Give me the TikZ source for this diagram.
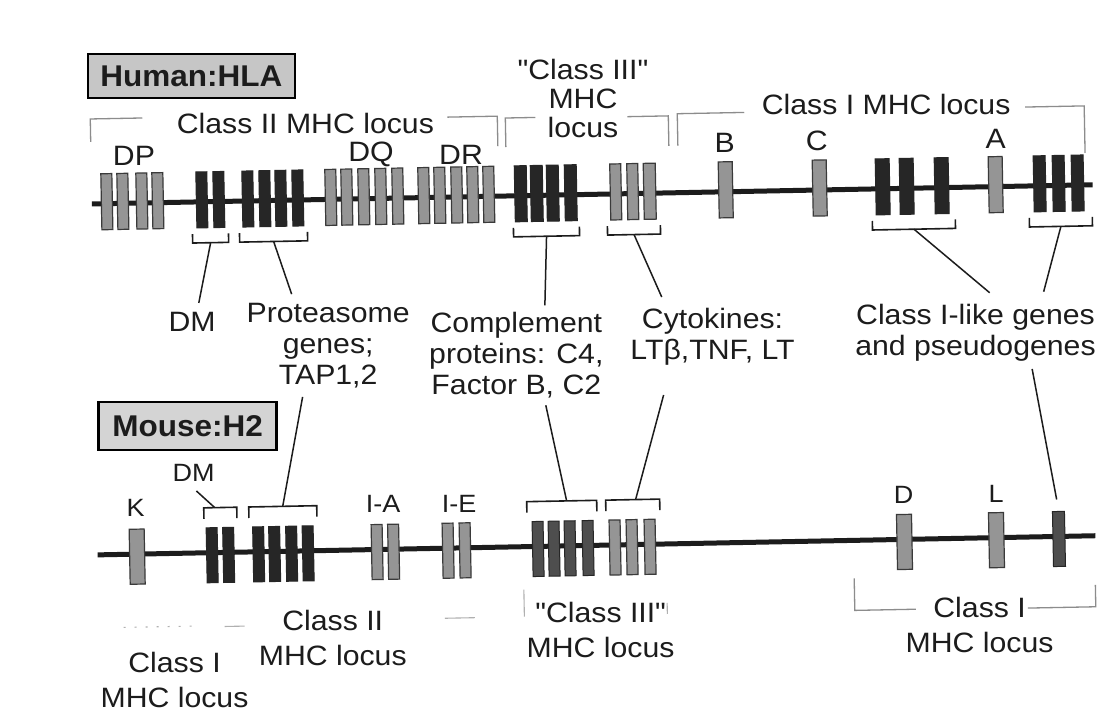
\documentclass[tikz,border=0pt]{standalone}
\usepackage{fontspec}
\setmainfont{Liberation Sans}
\newfontfamily\qfont{Liberation Sans}[Ligatures=TeXOff]
\usepackage{graphicx}
\definecolor{geneGray}{HTML}{959595}
\definecolor{geneEdge}{HTML}{3A3A3A}
\definecolor{geneBlack}{HTML}{262626}
\definecolor{geneDark}{HTML}{4E4E4E}
\definecolor{faintGray}{HTML}{B0B0B0}
\definecolor{brkGray}{HTML}{8C8C8C}
\definecolor{hlaFill}{HTML}{C6C6C6}
\definecolor{mouseFill}{HTML}{D4D4D4}
\definecolor{inkBlack}{HTML}{1C1C1C}
\newcommand\wx[1]{\scalebox{1.08}[1]{#1}}
\newcommand\sq{{\qfont\symbol{34}}}
\tikzset{
 chrom/.style={line width=5pt, draw=inkBlack},
 gbox/.style={fill=geneGray, draw=geneEdge, line width=1.2pt},
 bbox/.style={fill=geneBlack, draw=geneBlack, line width=1pt},
 dbox/.style={fill=geneDark, draw=geneBlack, line width=1pt},
 brk/.style={draw=inkBlack, line width=1.6pt},
 conn/.style={draw=inkBlack, line width=1.5pt},
 locusline/.style={draw=brkGray, line width=1.3pt},
 faint/.style={draw=faintGray, line width=1.1pt},
 lbl/.style={inner sep=0pt, align=center, text=inkBlack, font=\fontsize{28}{31}\selectfont},
 toplbl/.style={inner sep=0pt, align=center, text=inkBlack, font=\fontsize{28}{29}\selectfont},
 loclbl/.style={inner sep=0pt, align=center, text=inkBlack, font=\fontsize{28}{35}\selectfont},
 glbl/.style={inner sep=0pt, text=inkBlack, font=\fontsize{28}{30}\selectfont},
 slbl/.style={inner sep=0pt, text=inkBlack, font=\fontsize{25}{28}\selectfont},
 titlebox/.style={draw=black, line width=2.5pt, inner sep=0pt, text=inkBlack, font=\bfseries\fontsize{30}{32}\selectfont},
}
\begin{document}
\begin{tikzpicture}[x=1pt,y=-1pt]
\useasboundingbox[fill=white] (0,0) rectangle (1120,724);
\begin{scope}[rotate around={1.1:(560,362)}]

% ---------- titles
\node[titlebox, fill=hlaFill, minimum width=207pt, minimum height=44pt] (hla) at (197,69) {\scalebox{1.05}[1]{Human:HLA}};
\node[titlebox, fill=mouseFill, minimum width=178pt, minimum height=48pt] (h2) at (186.5,419) {\scalebox{1.05}[1]{Mouse:H2}};

% ---------- chromosomes
\coordinate (hL) at (95,195); \coordinate (hR) at (1096,195);
\draw[chrom] (hL) -- (hR);
\coordinate (mL) at (94,546); \coordinate (mR) at (1092,546);
\draw[chrom] (mL) -- (mR);

% ---------- human genes
\foreach \x/\w in {110/11,126/11,145/11,161/11,334/11,350/11,367/11,384/11,401/11,427/11,443/11,460/11,476/11,492/11,619/11,636/11,653/12,729/14,823/14,999/14}
  \path[gbox] (\x-\w/2,165) rectangle (\x+\w/2,221);
\foreach \x/\w in {205/11,222/11,251/11,268/11,284/11,301/11,524/12,540/12,556/12,574/12,886/14,910/14,945/14,1043/12,1062/12,1081/12}
  \path[bbox] (\x-\w/2,165) rectangle (\x+\w/2,221);

% ---------- mouse genes
\foreach \x/\w in {133.5/15,373.5/11,390/11,444.5/11,461.5/11,611.5/11,628.5/11,646.5/11,901/15,993/15}
  \path[gbox] (\x-\w/2,521) rectangle (\x+\w/2,576);
\foreach \x/\w in {208.5/11,225/11,255/11,271/11,288/11,304.5/11}
  \path[bbox] (\x-\w/2,521) rectangle (\x+\w/2,576);
\foreach \x/\w in {534.5/11,550.5/11,566.5/11,584.5/11,1055.5/12}
  \path[dbox] (\x-\w/2,521) rectangle (\x+\w/2,576);

% ---------- human gene labels
\node[glbl] (lDP) at (138,148) {\wx{DP}};
\node[glbl] (lDQ) at (375,151) {\wx{DQ}};
\node[glbl] (lDR) at (465,153) {\wx{DR}};
\node[glbl] (lB) at (729,146) {\wx{B}};
\node[glbl] (lC) at (821,146) {\wx{C}};
\node[glbl] (lA) at (1000,147) {\wx{A}};

% ---------- human locus labels
\node[lbl] (lc2) at (310,119) {\wx{Class II MHC locus}};
\draw[locusline] (95,133) -- (95,110) -- (147,110);
\draw[locusline] (452,115) -- (502,115) -- (502,145);
\node[toplbl] (lc3) at (588,99) {\wx{\sq Class III\sq}\\\wx{MHC}\\\wx{locus}};
\draw[locusline] (510,146) -- (510,117) -- (540,117);
\draw[locusline] (632,118) -- (673,118) -- (673,148);
\node[lbl] (lc1) at (891,111) {\wx{Class I MHC locus}};
\draw[locusline] (682,148) -- (682,116) -- (749,116);
\draw[locusline] (1030,116) -- (1089,116) -- (1089,163);

% ---------- human brackets (open upwards)
\draw[brk] (195,227) -- (195,236) -- (231,236) -- (231,227);
\coordinate (hbDM) at (213,236);
\draw[brk] (242,227) -- (242,236) -- (310,236) -- (310,227);
\coordinate (hbProt) at (276,236);
\draw[brk] (516,227) -- (516,236) -- (582,236) -- (582,227);
\coordinate (hbC3) at (549,236);
\draw[brk] (610,227) -- (610,236) -- (663,236) -- (663,227);
\coordinate (hbCyto) at (636.5,236);
\draw[brk] (875,227) -- (875,236) -- (958,236) -- (958,227);
\coordinate (hbIL) at (916.5,236);
\draw[brk] (1032,227) -- (1032,236) -- (1095,236) -- (1095,227);
\coordinate (hbIR) at (1063.5,236);

% ---------- middle labels
\node[lbl] (lDMh) at (193,315) {\wx{DM}};
\node[lbl] (lProt) at (328.5,341.5) {\wx{Proteasome}\\\wx{genes;}\\\wx{TAP1,2}};
\node[lbl] (lComp) at (516.5,354) {\wx{Complement}\\\wx{proteins: C4,}\\\wx{Factor B, C2}};
\node[lbl] (lCyto) at (713,340) {\wx{Cytokines:}\\\wx{LTβ,TNF, LT}};
\node[lbl] (lCl1) at (976,341) {\wx{Class I-like genes}\\\wx{and pseudogenes}};

% ---------- upper connectors
\coordinate (eDM) at (200,296);
\coordinate (eProt) at (293,289);
\coordinate (eComp) at (546,305);
\coordinate (eCyto) at (663,299);
\coordinate (eIL) at (991,301);
\coordinate (eIR) at (1045,301);
\draw[conn] (hbDM) -- (eDM);
\draw[conn] (hbProt) -- (eProt);
\draw[conn] (hbC3) -- (eComp);
\draw[conn] (hbCyto) -- (eCyto);
\draw[conn] (hbIL) -- (eIL);
\draw[conn] (hbIR) -- (eIR);

% ---------- mouse brackets (open downwards)
\draw[brk] (201,512) -- (201,501) -- (234,501) -- (234,512);
\coordinate (mbDM) at (212,501);
\draw[brk] (246,512) -- (246,501) -- (314,501) -- (314,512);
\coordinate (mbProt) at (280,501);
\draw[brk] (524,512) -- (524,501) -- (594,501) -- (594,512);
\coordinate (mbC3) at (564,501);
\draw[brk] (603,512) -- (603,501) -- (657,501) -- (657,512);
\coordinate (mbCyto) at (633,501);
\coordinate (mbI) at (1054,509);

% ---------- lower connectors
\coordinate (sDM) at (194,484);
\coordinate (sProt) at (302,392);
\coordinate (sComp) at (545,405);
\coordinate (sCyto) at (663,397);
\coordinate (sIl) at (1032,378);
\draw[conn] (sDM) -- (mbDM);
\draw[conn] (sProt) -- (mbProt);
\draw[conn] (sComp) -- (mbC3);
\draw[conn] (sCyto) -- (mbCyto);
\draw[conn] (sIl) -- (mbI);

% ---------- mouse gene labels
\node[slbl] (lK) at (133,500) {\wx{K}};
\node[slbl] (lDMm) at (191.5,466) {\wx{DM}};
\node[slbl] (lIA) at (380.5,500) {\wx{I-A}};
\node[slbl] (lIE) at (456.5,502) {\wx{I-E}};
\node[slbl] (lD) at (901,501) {\wx{D}};
\node[slbl] (lL) at (993.5,502) {\wx{L}};

% ---------- mouse locus labels
\node[loclbl] (mc2) at (327.5,634) {\wx{Class II}\\\wx{MHC locus}};
\node[loclbl] (mc1a) at (168.5,672.6) {\wx{Class I}\\\wx{MHC locus}};
\node[loclbl] (mc3) at (595.5,630.3) {\wx{\sq Class III\sq}\\\wx{MHC locus}};
\node[loclbl] (mc1b) at (974.5,633) {\wx{Class I}\\\wx{MHC locus}};
\draw[faint, dash pattern=on 2pt off 9pt] (118.5,619) -- (186.5,619);
\draw[faint] (219.5,620) -- (239.5,620);
\draw[faint] (440,616) -- (470,616);
\draw[faint] (519.5,589) -- (519.5,616);
\draw[faint] (662.5,605) -- (662.5,616);
\draw[locusline] (850,584) -- (850,616) -- (911,616);
\draw[locusline] (1023,617) -- (1091,617) -- (1091,595);

\end{scope}
\end{tikzpicture}
\end{document}
